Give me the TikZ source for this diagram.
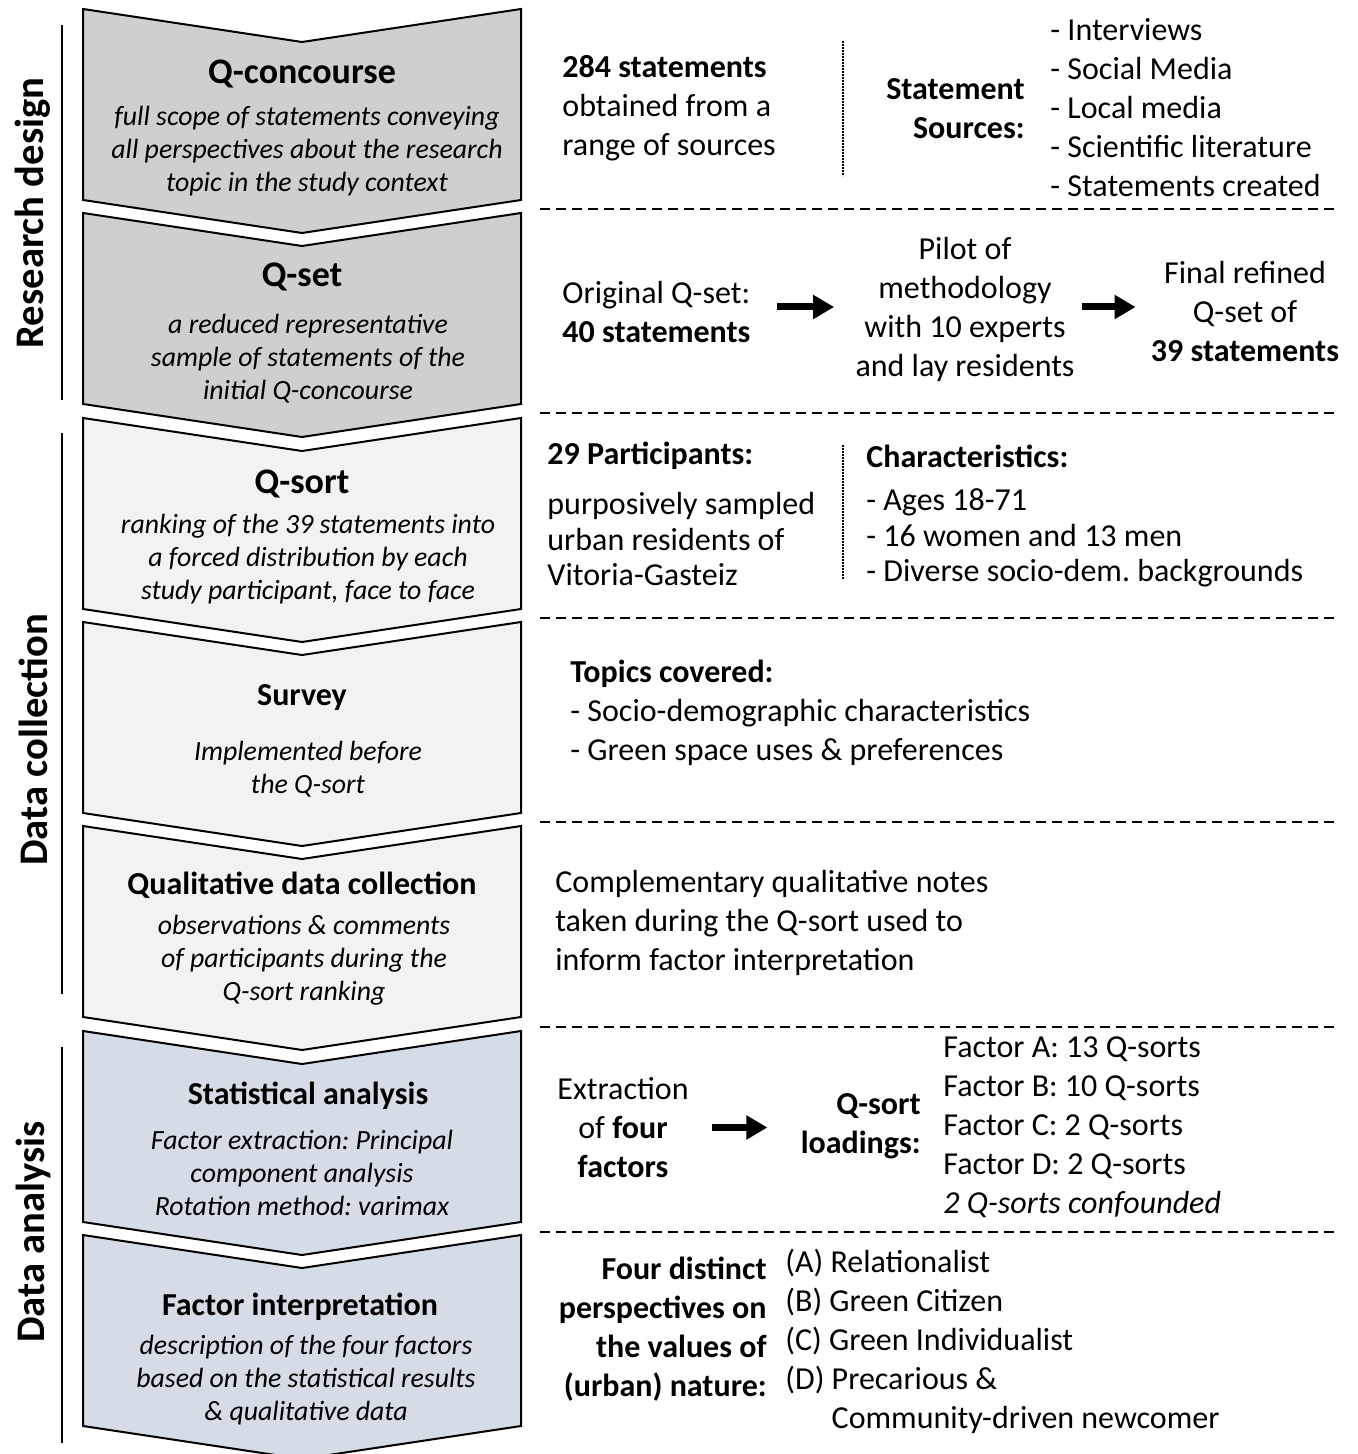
\documentclass[tikz,border=0pt]{standalone}
\usepackage{fontspec}
\setmainfont{Carlito}
\usetikzlibrary{arrows.meta}
\frenchspacing

\definecolor{rdgray}{HTML}{D0CECE}
\definecolor{dcgray}{HTML}{F2F2F2}
\definecolor{dablue}{HTML}{D6DCE5}

\begin{document}
\begin{tikzpicture}[x=0.5pt,y=-0.5pt,
    chevron/.style={draw=black,line width=1pt},
    stagetitle/.style={font=\bfseries\fontsize{18}{21}\selectfont,inner sep=0pt},
    stagesub/.style={font=\bfseries\fontsize{16}{19}\selectfont,inner sep=0pt},
    stagedesc/.style={font=\itshape\fontsize{13.9}{16.5}\selectfont,align=center,inner sep=0pt},
    phase/.style={font=\bfseries\fontsize{20.3}{24}\selectfont,rotate=90,inner sep=0pt},
    body/.style={font=\fontsize{16}{19.5}\selectfont,inner sep=0pt},
    bodyb/.style={font=\bfseries\fontsize{16}{19.5}\selectfont,inner sep=0pt},
    bodytight/.style={font=\fontsize{16}{17.75}\selectfont,inner sep=0pt},
    sep/.style={line width=0.8pt,dash pattern=on 5pt off 3pt},
    dotsep/.style={line width=0.9pt,dash pattern=on 0.9pt off 0.6pt},
    bigarrow/.style={line width=3.5pt,-{Triangle[length=10.5pt,width=11.5pt]}}]
        \useasboundingbox (0,0) rectangle (1357,1454);

        % stages
        \foreach \yt/\col in {9/rdgray,213/rdgray,418/dcgray,622/dcgray,826/dcgray,1031/dablue,1235/dablue}
            \draw[chevron,fill=\col] (83,\yt) -- ++(219,33) -- ++(219,-33) -- ++(0,191) -- ++(-219,33) -- ++(-219,-33) -- cycle;

        % phases
        \node[phase] (rd) at (33,213) {Research design};
        \draw[line width=1pt] (62,25) -- (62,400);
        \node[phase] (dc) at (33,740) {Data collection};
        \draw[line width=1pt] (62,433) -- (62,994);
        \node[phase] (da) at (33,1232) {Data analysis};
        \draw[line width=1pt] (62,1047) -- (62,1443);

        \foreach \ys in {209,413,618,822,1027,1232}
            \draw[sep] (540,\ys) -- (1335,\ys);

        \node[stagetitle] (qconc) at (302,74) {Q-concourse};
        \node[stagedesc] (qconcd) at (307,151) {full scope of statements conveying\\all perspectives about the research\\topic in the study context};
        \node[stagetitle] (qset) at (302,277) {Q-set};
        \node[stagedesc] (qsetd) at (308,359) {a reduced representative\\sample of statements of the\\initial Q-concourse};
        \node[stagetitle] (qsort) at (302,484) {Q-sort};
        \node[stagedesc] (qsortd) at (308,559) {ranking of the 39 statements into\\a forced distribution by each\\study participant, face to face};
        \node[stagesub] (survey) at (302,698) {Survey};
        \node[stagedesc] (surveyd) at (308,769) {Implemented before\\the Q-sort};
        \node[stagesub] (qual) at (302,885) {Qualitative data collection};
        \node[stagedesc] (quald) at (304,960) {observations \& comments\\of participants during the\\Q-sort ranking};
        \node[stagesub] (stat) at (308,1096) {Statistical analysis};
        \node[stagedesc] (statd) at (302,1173) {Factor extraction: Principal\\component analysis\\Rotation method: varimax};
        \node[stagesub] (interp) at (300,1307) {Factor interpretation};
        \node[stagedesc] (interpd) at (306,1380) {description of the four factors\\based on the statistical results\\\& qualitative data};

        % concourse
        \node[body,align=left,anchor=west] (nstat) at (562,108) {\textbf{284 statements}\\obtained from a\\range of sources};
        \draw[dotsep] (843,41) -- (843,176);
        \node[bodyb,align=right,anchor=east] (srcs) at (1025,108.5) {Statement\\Sources:};
        \node[body,align=left,anchor=west] (srclist) at (1050,107.5) {- Interviews\\- Social Media\\- Local media\\- Scientific literature\\- Statements created};

        % q-set
        \node[body,align=left,anchor=west] (orig) at (562,312.5) {Original Q-set:\\\textbf{40 statements}};
        \node[body,align=center] (pilot) at (965,309.5) {Pilot of\\methodology\\with 10 experts\\and lay residents};
        \node[body,align=center] (final) at (1245,312) {Final refined\\Q-set of\\\textbf{39 statements}};
        \draw[bigarrow,shorten <=13pt,shorten >=10.5pt] ([yshift=2.75pt]orig.east) -- ([yshift=2.75pt]orig.east -| pilot.west);
        \draw[bigarrow,shorten <=3.5pt,shorten >=7.5pt] ([yshift=2.75pt]orig.east -| pilot.east) -- ([yshift=2.75pt]orig.east -| final.west);

        % q-sort
        \node[bodyb,anchor=west] (npart) at (547,456) {29 Participants:};
        \node[bodytight,align=left,anchor=west] (partd) at (547,539.5) {purposively sampled\\urban residents of\\Vitoria-Gasteiz};
        \draw[dotsep] (843,445) -- (843,580);
        \node[bodyb,anchor=west] (chars) at (866,456) {Characteristics:};
        \node[bodytight,align=left,anchor=west] (charsd) at (866,538) {- Ages 18-71\\- 16 women and 13 men\\- Diverse socio-dem. backgrounds};

        % survey
        \node[body,align=left,anchor=west] (topics) at (570,712.5) {\textbf{Topics covered:}\\- Socio-demographic characteristics\\- Green space uses \& preferences};

        % qualitative
        \node[body,align=left,anchor=west] (notes) at (555,922.5) {Complementary qualitative notes\\taken during the Q-sort used to\\inform factor interpretation};

        % analysis
        \node[body,align=center] (extr) at (623,1127.5) {Extraction\\of \textbf{four}\\\textbf{factors}};
        \node[bodyb,align=right,anchor=east] (load) at (921,1126.5) {Q-sort\\loadings:};
        \draw[bigarrow,shorten <=11.5pt,shorten >=16.5pt] (extr.east) -- (extr.east -| load.west);
        \node[body,align=left,anchor=west] (factors) at (943,1127.5) {Factor A: 13 Q-sorts\\Factor B: 10 Q-sorts\\Factor C: 2 Q-sorts\\Factor D: 2 Q-sorts\\\textit{2 Q-sorts confounded}};

        % interpretation
        \node[bodyb,align=right,anchor=east] (persp) at (767,1329) {Four distinct\\perspectives on\\the values of\\(urban) nature:};
        \node[body,align=left,anchor=west] (plist) at (785,1341.5) {(A) Relationalist\\(B) Green Citizen\\(C) Green Individualist\\(D) Precarious \&\\\phantom{(D) }Community-driven newcomer};
    \end{tikzpicture}
\end{document}
